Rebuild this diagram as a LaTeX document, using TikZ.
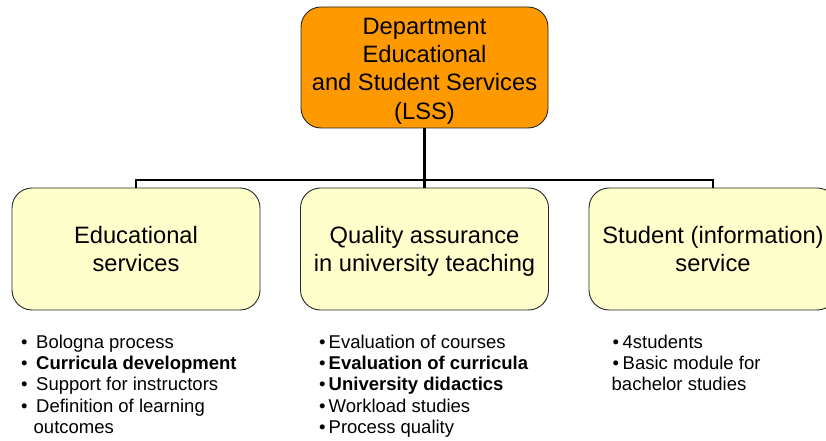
\documentclass[tikz,border=0pt]{standalone}
\usepackage{fontspec}
\setmainfont{Liberation Sans}
\definecolor{orangebox}{HTML}{FF9900}
\definecolor{yellowbox}{HTML}{FFFFCC}
\newcommand{\topstr}[1]{\rule{0pt}{#1}}
\newcommand{\botstr}[1]{\rule[-#1]{0pt}{#1}}
\begin{document}
\begin{tikzpicture}[x=1pt,y=1pt,
  topbox/.style={draw=black!85, line width=0.9pt, fill=orangebox, rounded corners=20pt,
    minimum width=247pt, minimum height=121pt, align=center, inner sep=0pt,
    font=\fontsize{23.7}{28.3}\selectfont},
  unitbox/.style={draw=black!85, line width=0.9pt, fill=yellowbox, rounded corners=20pt,
    minimum width=248pt, minimum height=122pt, align=center, inner sep=0pt,
    font=\fontsize{23.7}{28}\selectfont},
  conn/.style={line width=2.8pt, black},
  list/.style={anchor=north west, inner sep=0pt, align=left,
    font=\fontsize{18.5}{21.3}\selectfont}]
\useasboundingbox (0,0) rectangle (826,441);
\clip (0,0) rectangle (826,441);
\node[topbox] (top) at (424.5,373.5) {\topstr{24.5pt}Department\\Educational\\and Student Services\\(LSS)\botstr{6pt}};
\node[unitbox] (edu) at (136,192) {\topstr{24pt}Educational\\services\botstr{6pt}};
\node[unitbox] (qa) at (424.5,192) {\topstr{24pt}Quality assurance\\in university teaching\botstr{6pt}};
\node[unitbox] (stu) at (713,192) {\topstr{24pt}Student (information)\\service\botstr{6pt}};
\coordinate (bar) at (424.5,261);
\draw[conn] (top.south) -- (qa.north);
\draw[conn] (edu.north) -- (edu.north |- bar) -- (stu.north |- bar) -- (stu.north);
\node[list] (ledu) at (21,106.5) {\makebox[15pt][l]{•}Bologna process\\
  \makebox[15pt][l]{•}\textbf{Curricula development}\\
  \makebox[15pt][l]{•}Support for instructors\\
  \makebox[15pt][l]{•}Definition of learning\\
  \hspace*{12.5pt}outcomes};
\node[list] (lqa) at (319,106.5) {\makebox[9.5pt][l]{•}Evaluation of courses\\
  \makebox[9.5pt][l]{•}\textbf{Evaluation of curricula}\\
  \makebox[9.5pt][l]{•}\textbf{University didactics}\\
  \makebox[9.5pt][l]{•}Workload studies\\
  \makebox[9.5pt][l]{•}Process quality};
\node[list] (lstu) at (611.5,106.5) {\hspace*{1pt}\makebox[10pt][l]{•}4students\\
  \hspace*{1pt}\makebox[10pt][l]{•}Basic module for\\
  bachelor studies};
\end{tikzpicture}
\end{document}
